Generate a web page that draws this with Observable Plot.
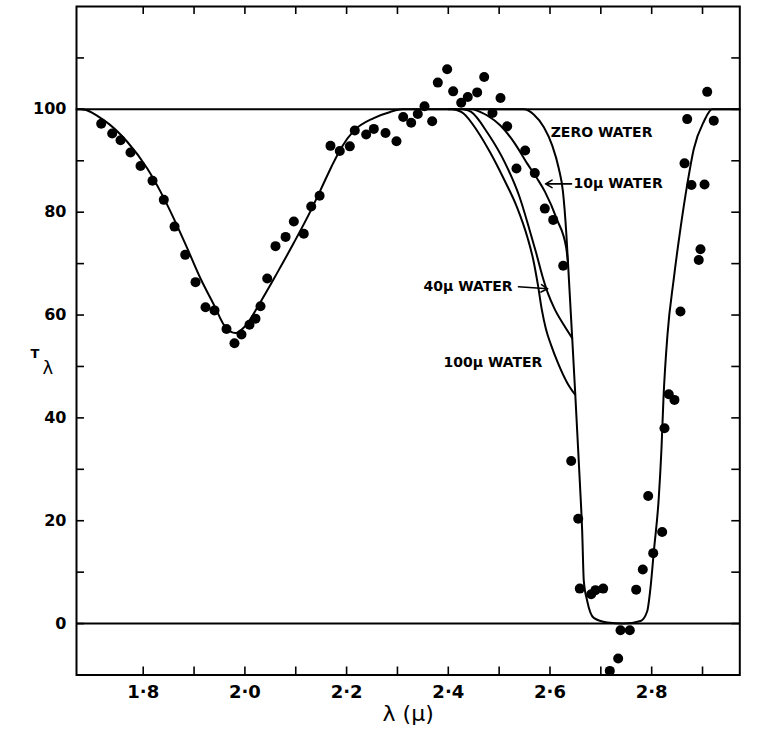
<!DOCTYPE html>
<html><head><meta charset="utf-8">
<script src="https://cdn.jsdelivr.net/npm/d3@7"></script>
<script src="https://cdn.jsdelivr.net/npm/@observablehq/plot@0.6"></script>
<style>body{margin:0;background:#fff}</style>
</head><body><div id="chart"></div>
<script>
// ---- axis ticks ----
const xTickValues = [1.8, 1.9, 2.0, 2.1, 2.2, 2.3, 2.4, 2.5, 2.6, 2.7, 2.8, 2.9];
const xTickLabels = [1.8, 2.0, 2.2, 2.4, 2.6, 2.8];
const yTickValues = [0, 10, 20, 30, 40, 50, 60, 70, 80, 90, 100, 110];
const yTickLabels = [0, 20, 40, 60, 80, 100];
const xDomain = [1.6688, 2.9733];
const yDomain = [-10, 120];

// ---- observed transmission (dots) ----
const obsLambda = [1.7174,1.739,1.7554,1.775,1.7947,1.8183,1.8405,1.8616,1.8826,1.9029,1.9225,1.9402,1.9638,1.9795,1.9933,2.009,2.0208,2.0307,2.0439,2.0602,2.08,2.0962,2.1158,2.1304,2.1469,
  2.1683,2.1866,2.2063,2.2161,2.2385,2.2535,2.2765,2.2981,2.3113,2.327,2.34,2.3532,2.3683,2.3794,2.3978,2.4096,2.4254,2.4383,2.4568,2.4706,2.4869,2.5027,2.5158,2.5341,2.5512,2.5701,2.5898,2.6063,2.626,
  2.6417,2.6555,2.6586,2.681,2.6895,2.7046,2.7176,2.7341,2.7387,2.757,2.7695,2.7825,2.7931,2.803,2.8206,2.8252,2.8336,2.8448,2.8566,2.8646,2.8698,2.8783,2.8926,2.896,2.9039,2.9092,2.9221];
const obsT = [97.2,95.3,94.0,91.6,89.0,86.1,82.4,77.2,71.7,66.4,61.5,60.9,57.3,54.5,56.2,58.1,59.3,61.7,67.1,73.4,75.2,78.2,75.8,81.1,83.2,
  92.9,91.9,92.8,95.9,95.1,96.2,95.4,93.8,98.5,97.4,99.1,100.6,97.7,105.2,107.8,103.5,101.3,102.4,103.3,106.3,99.3,102.2,96.7,88.5,92.0,87.6,80.7,78.5,69.6,
  31.6,20.4,6.8,5.7,6.5,6.8,-9.2,-6.8,-1.3,-1.3,6.6,10.5,24.8,13.7,17.8,38.0,44.6,43.5,60.7,89.5,98.1,85.3,70.7,72.8,85.4,103.4,97.8];

// ---- computed curves ----
const baseLambda = [1.6688,1.6775,1.7225,1.7685,1.808,1.834,1.860,1.8865,1.9127,1.939,1.962,1.9815,2.000,2.031,2.0635,2.096,2.129,2.1487,2.17,2.19,2.214,2.2535,2.286,2.31,2.42];
const baseT      = [100,100,97.9,93.7,88.5,84.0,78.8,73.0,67.1,62.0,57.6,56.5,57.8,62.6,68.2,74.0,80.2,84.3,88.8,92.6,95.8,98.3,99.5,100,100];

const zeroLambda = [2.40,2.548,2.568,2.588,2.6043,2.6173,2.6255,2.632,2.6355,2.6437,2.6495,2.6535,2.6586,2.6633,2.6665,2.6732,2.6861,2.7125,2.745,2.778,2.7912,2.7977,2.8043,2.8139,2.8193,2.8232,2.8311,2.8435,2.8566,2.8698,2.8828,2.9025,2.919,2.9733];
const zeroT      = [100,100,99,96.5,93,88.5,84,76,70,55.5,45,37.4,27.7,18,8.3,4.4,1.1,0.2,0,0.5,2.4,7,14.1,24.4,34.1,43.8,56.2,67.1,76.8,85.3,92.3,97.6,100,100];

const w10Lambda = [2.45,2.475,2.503,2.532,2.555,2.575,2.59,2.614,2.632,2.6355];
const w10T      = [100,98.9,96.8,93.2,89.5,86.5,84,78.5,73,70];

const w40Lambda = [2.43,2.445,2.478,2.512,2.54,2.56,2.573,2.585,2.596,2.609,2.627,2.6437];
const w40T      = [100,99.5,95.3,89.5,83,76.5,72,67.6,64.2,61.2,58.1,55.5];

const w100Lambda = [2.41,2.43,2.457,2.483,2.51,2.535,2.556,2.567,2.576,2.584,2.592,2.602,2.616,2.634,2.6495];
const w100T      = [100,99.2,95.8,91.5,86.3,81,75,70.8,66,61,57.3,54.2,50.6,46.8,44.5];

// ---- annotations ----
const labelText   = ["ZERO WATER", "10\u03bc WATER", "40\u03bc WATER", "100\u03bc WATER"];
const labelLambda = [2.6014, 2.6464, 2.3512, 2.3906];
const labelT      = [95.4, 85.5, 65.6, 50.7];
const arrowFromLambda = [2.6423, 2.538];
const arrowFromT      = [85.5, 65.5];
const arrowToLambda   = [2.5913, 2.5955];
const arrowToT        = [85.5, 65.1];

// ---- build tables ----
const obs = obsLambda.map((x, i) => ({x, y: obsT[i]}));
const curves = [];
[["base", baseLambda, baseT], ["zero", zeroLambda, zeroT], ["10", w10Lambda, w10T],
 ["40", w40Lambda, w40T], ["100", w100Lambda, w100T]].forEach(([s, xs, ys]) =>
  xs.forEach((x, i) => curves.push({s, x, y: ys[i]})));
const labels = labelText.map((t, i) => ({t, x: labelLambda[i], y: labelT[i]}));
const arrows = arrowFromLambda.map((x1, i) => ({x1, y1: arrowFromT[i], x2: arrowToLambda[i], y2: arrowToT[i]}));

const W = 760, H = 737;
const mL = 76, mR = 20.7, mT = 6, mB = 62.5;
const tickPx = 8;
const xPer = (W - mL - mR) / (xDomain[1] - xDomain[0]);
const yPer = (H - mT - mB) / (yDomain[1] - yDomain[0]);
const tx = tickPx / xPer, ty = tickPx / yPer;

const font = "DejaVu Sans";
const chart = Plot.plot({
  width: W, height: H,
  marginLeft: mL, marginRight: mR, marginTop: mT, marginBottom: mB,
  style: {background: "#fff", color: "#000", fontFamily: font},
  x: {domain: xDomain},
  y: {domain: yDomain},
  marks: [
    Plot.axisX(xTickLabels, {tickSize: 0, tickPadding: 10, fontSize: 18, fontWeight: "bold",
      tickFormat: d => d.toFixed(1).replace(".", "\u00b7"), label: null}),
    Plot.axisY(yTickLabels, {tickSize: 0, tickPadding: 10, fontSize: 16, fontWeight: "bold", label: null}),
    // inward ticks on all four sides
    Plot.ruleX(xTickValues, {x: d => d, y1: yDomain[0], y2: yDomain[0] + ty, strokeWidth: 1.6}),
    Plot.ruleX(xTickValues, {x: d => d, y1: yDomain[1], y2: yDomain[1] - ty, strokeWidth: 1.6}),
    Plot.ruleY(yTickValues, {y: d => d, x1: xDomain[0], x2: xDomain[0] + tx, strokeWidth: 1.6}),
    Plot.ruleY(yTickValues, {y: d => d, x1: xDomain[1], x2: xDomain[1] - tx, strokeWidth: 1.6}),
    Plot.ruleY([0, 100], {strokeWidth: 2}),
    Plot.frame({stroke: "#000", strokeWidth: 2}),
    Plot.line(curves, {x: "x", y: "y", z: "s", curve: "monotone-x", stroke: "#000", strokeWidth: 2}),
    Plot.dot(obs, {x: "x", y: "y", r: 5, fill: "#000", stroke: "none"}),
    Plot.text(labels, {x: "x", y: "y", text: "t", textAnchor: "start", fontSize: 14, fontWeight: "bold", fill: "#000"}),
    Plot.arrow(arrows, {x1: "x1", y1: "y1", x2: "x2", y2: "y2", stroke: "#000", strokeWidth: 1.6, headLength: 7}),
    Plot.text(["T"], {frameAnchor: "left", y: 52.5, dx: -46, fontSize: 13, fontWeight: "bold", fill: "#000"}),
    Plot.text(["\u03bb"], {frameAnchor: "left", y: 49.6, dx: -34, fontSize: 18, fill: "#000"}),
    Plot.text(["\u03bb (\u03bc)"], {frameAnchor: "bottom", dy: 46, fontSize: 22, fill: "#000"})
  ]
});
document.getElementById("chart").append(chart);
</script>
</body></html>
